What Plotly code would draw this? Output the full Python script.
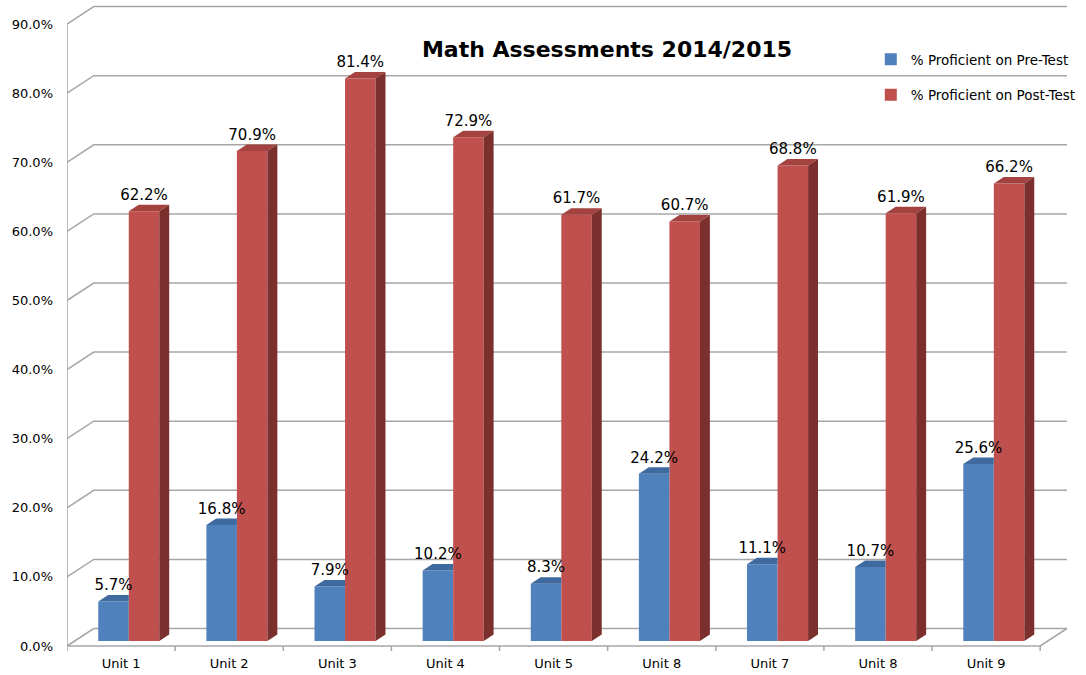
import plotly.graph_objects as go

# ---------------- data ----------------
units = ["Unit 1", "Unit 2", "Unit 3", "Unit 4", "Unit 5", "Unit 8", "Unit 7", "Unit 8", "Unit 9"]
pre_test = [5.7, 16.8, 7.9, 10.2, 8.3, 24.2, 11.1, 10.7, 25.6]
post_test = [62.2, 70.9, 81.4, 72.9, 61.7, 60.7, 68.8, 61.9, 66.2]
y_ticks = [0, 10, 20, 30, 40, 50, 60, 70, 80, 90]
y_tick_labels = [f"{v:.1f}%" for v in y_ticks]
series_names = ["% Proficient on Pre-Test", "% Proficient on Post-Test"]
title_text = "Math Assessments 2014/2015"

# ---------------- geometry / style ----------------
W, H = 1086, 675
ML, MR, MT, MB = 67, 6, 5, 24
PLOT_W = W - ML - MR
PLOT_H = H - MT - MB
CAT_PX = 109.1           # px per category
PCT_PX = 6.91            # px per percent
X0 = -0.5
X_MAX = X0 + PLOT_W / CAT_PX
Y_MIN = -5 / PCT_PX
Y_MAX = Y_MIN + PLOT_H / PCT_PX

# wall depth (3D effect) in data units
DXD = 27 / CAT_PX
DYD = 17.5 / PCT_PX
# bar placement
BASE = 5 / PCT_PX
BW = 30.8 / CAT_PX
OFF_PRE = -0.211
OFF_POST = OFF_PRE + BW
BDX = 10 / CAT_PX
BDY = 6.5 / PCT_PX
LBL = 15 / PCT_PX

BLUE = "#4F81BD"
BLUE_TOP = "#3E6A9F"
RED = "#C0504D"
RED_TOP = "#A3423F"
RED_SIDE = "#7B302E"
GRID = "#A6A6A6"
N = len(units)
idx = list(range(N))

fig = go.Figure()

# front faces as bars
fig.add_trace(go.Bar(x=idx, y=pre_test, base=BASE, width=BW, offset=OFF_PRE,
                     marker=dict(color=BLUE, line=dict(width=0)), name=series_names[0],
                     legendgroup="a", hoverinfo="skip"))
fig.add_trace(go.Bar(x=idx, y=post_test, base=BASE, width=BW, offset=OFF_POST,
                     marker=dict(color=RED, line=dict(width=0)), name=series_names[1],
                     legendgroup="b", hoverinfo="skip"))

# 3D faces
def poly_trace(xs, ys, color):
    return go.Scatter(x=xs, y=ys, mode="lines", fill="toself", fillcolor=color,
                      line=dict(width=0, color=color), hoverinfo="skip", showlegend=False)

bx, by = [], []
for i, v in zip(idx, pre_test):
    L = i + OFF_PRE
    R = L + BW
    T = BASE + v
    bx += [L, R, R, L + BDX, L, None]
    by += [T, T, T + BDY, T + BDY, T, None]
fig.add_trace(poly_trace(bx, by, BLUE_TOP))

tx, ty, sx, sy = [], [], [], []
for i, v in zip(idx, post_test):
    L = i + OFF_POST
    R = L + BW
    T = BASE + v
    tx += [L, R, R + BDX, L + BDX, L, None]
    ty += [T, T, T + BDY, T + BDY, T, None]
    sx += [R, R, R + BDX, R + BDX, R, None]
    sy += [BASE, T, T + BDY, BASE + BDY, BASE, None]
fig.add_trace(poly_trace(tx, ty, RED_TOP))
fig.add_trace(poly_trace(sx, sy, RED_SIDE))

# data labels
label_font = dict(family="DejaVu Sans", size=15, color="#000000")
fig.add_trace(go.Scatter(x=[i + OFF_PRE + BW / 2 for i in idx],
                         y=[BASE + v + LBL for v in pre_test],
                         text=[f"{v:.1f}%" for v in pre_test], mode="text",
                         textposition="middle center", textfont=label_font,
                         cliponaxis=False, showlegend=False, hoverinfo="skip"))
fig.add_trace(go.Scatter(x=[i + OFF_POST + BW / 2 for i in idx],
                         y=[BASE + v + LBL for v in post_test],
                         text=[f"{v:.1f}%" for v in post_test], mode="text",
                         textposition="middle center", textfont=label_font,
                         cliponaxis=False, showlegend=False, hoverinfo="skip"))

# walls, grid, floor as shapes
shapes = []
line_style = dict(color=GRID, width=1.5)
x_end = X0 + N
for v in y_ticks:
    shapes.append(dict(type="path", xref="x", yref="y", layer="below", line=line_style,
                       path=f"M{X0},{v} L{X0 + DXD},{v + DYD} L{x_end + DXD},{v + DYD}"))
# front axis line and floor
shapes.append(dict(type="line", xref="x", yref="y", layer="below", line=line_style,
                   x0=X0, y0=0, x1=X0, y1=y_ticks[-1]))
shapes.append(dict(type="path", xref="x", yref="y", layer="below", line=line_style,
                   path=f"M{X0},0 L{x_end},0 L{x_end + DXD},{DYD}"))
for k in range(N + 1):
    shapes.append(dict(type="line", xref="x", yref="y", layer="below", line=line_style,
                       x0=X0 + k, y0=0, x1=X0 + k, y1=Y_MIN))

fig.update_layout(
    width=W, height=H,
    margin=dict(l=ML, r=MR, t=MT, b=MB),
    paper_bgcolor="white", plot_bgcolor="white",
    barmode="overlay",
    shapes=shapes,
    title=dict(text=f"<b>{title_text}</b>", x=607 / W, xanchor="center",
               y=1 - 49 / H, yanchor="middle", yref="container",
               font=dict(family="DejaVu Sans", size=22, color="#000000")),
    legend=dict(x=(878 - ML) / PLOT_W, y=(H - MB - 44) / PLOT_H, xanchor="left", yanchor="top",
                bgcolor="rgba(0,0,0,0)", tracegroupgap=15,
                font=dict(family="DejaVu Sans", size=13.5, color="#000000")),
    xaxis=dict(range=[X0, X_MAX], showgrid=False, zeroline=False, showline=False,
               tickvals=idx, ticktext=units, ticks="", ticklabelstandoff=3,
               tickfont=dict(family="DejaVu Sans", size=13, color="#000000")),
    yaxis=dict(range=[Y_MIN, Y_MAX], showgrid=False, zeroline=False, showline=False,
               tickvals=y_ticks, ticktext=y_tick_labels, ticks="", ticklabelstandoff=13,
               tickfont=dict(family="DejaVu Sans", size=13, color="#000000")),
)

fig.write_html("out.html", config={"displayModeBar": False},
               post_script="document.body.style.margin='0';document.body.style.overflow='hidden';")
